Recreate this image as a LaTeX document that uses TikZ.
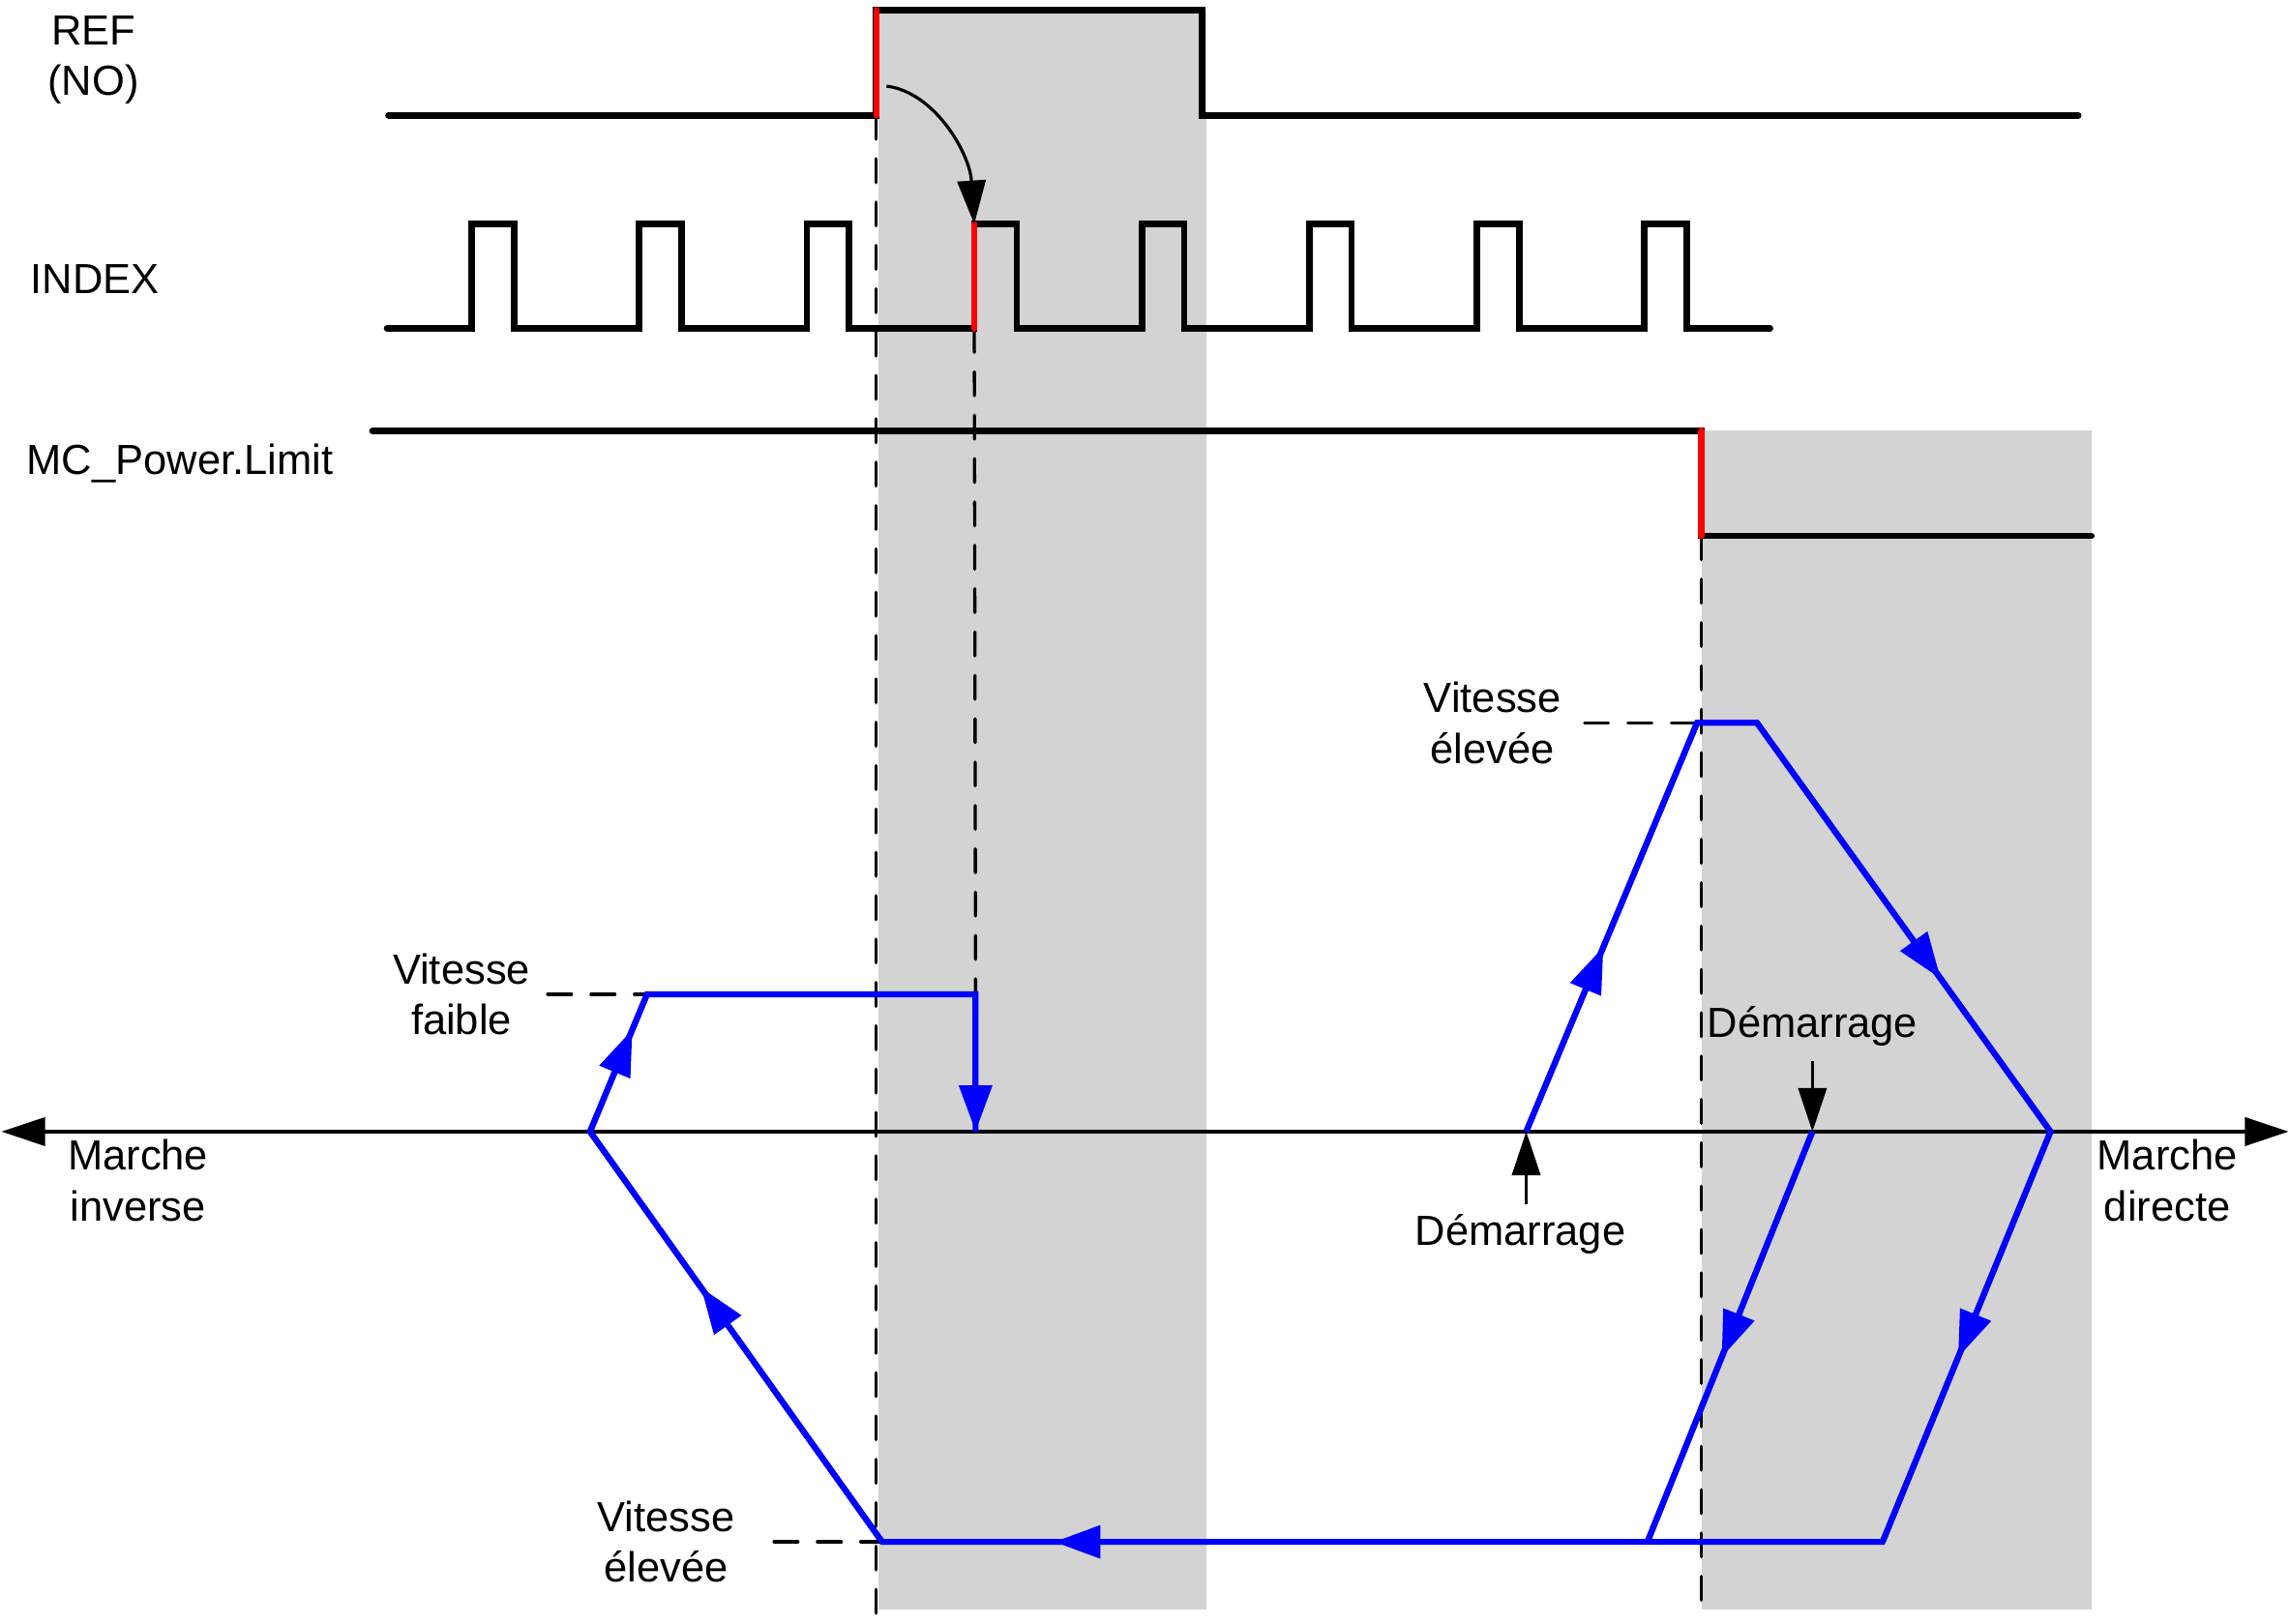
\documentclass[tikz,border=0pt]{standalone}
\usepackage{fontspec}
\setmainfont{Liberation Sans}
\usetikzlibrary{arrows.meta,decorations.markings}
\definecolor{bandgray}{RGB}{211,211,211}
\definecolor{pureblue}{RGB}{0,0,255}
\definecolor{purered}{RGB}{255,0,0}
\tikzset{
  sig/.style={line width=2.5pt, line cap=round, line join=miter},
  redge/.style={line width=2.4pt, draw=purered, line cap=round},
  guide/.style={line width=1.25pt, line cap=round, dash pattern=on 9.3pt off 7.6pt},
  vel/.style={line width=2.3pt, draw=pureblue, line join=miter},
  midarrow/.style={postaction={decorate}, decoration={markings,
      mark=at position #1 with {\arrow{Triangle[length=18pt,width=12.5pt]}}}},
  axisline/.style={line width=1.25pt},
  lbl/.style={font=\fontsize{16.4}{19.8}\selectfont, align=center, inner sep=0pt},
  smallarrow/.style={line width=1.2pt},
  >={Triangle[length=17pt,width=11pt]}
}
\begin{document}
\begin{tikzpicture}[x=0.02cm, y=-0.02cm]
\useasboundingbox (0,0) rectangle (1568,1112);
% grey bands
\fill[bandgray] (601.5,7) rectangle (826,1102.3);
\fill[bandgray] (1165,295) rectangle (1432.4,1102.3);

% key coordinates
\coordinate (refUpLo) at (600,79);
\coordinate (refUpHi) at (600,7);
\coordinate (idxUpLo) at (667.1,225);
\coordinate (idxUpHi) at (667.1,153.5);
\coordinate (pwHi) at (1165,295);
\coordinate (pwLo) at (1165,367);
\coordinate (axL) at (1,775);
\coordinate (axR) at (1567,775);
\coordinate (bottom600) at (600,1112);
\coordinate (bottom1165) at (1165,1103);
% velocity profile points
\coordinate (s1) at (1045,775);
\coordinate (h1) at (1162,495);
\coordinate (h2) at (1203,495);
\coordinate (z1) at (1404,775);
\coordinate (b1) at (1289,1056);
\coordinate (b2) at (604,1056);
\coordinate (z2) at (404,775);
\coordinate (l1) at (443,681);
\coordinate (l2) at (668,681);
\coordinate (stop) at (668,775);
\coordinate (s2) at (1241,775);
\coordinate (b3) at (1128,1056);

% dashed guides
\draw[guide] (refUpLo) -- (bottom600);
\draw[guide] (idxUpLo) -- (l2);
\draw[guide] (pwLo) -- (bottom1165);
\draw[guide] (375,681) -- (l1);
\draw[guide] (1085,495) -- (h1);
\draw[guide] (530,1056) -- (b2);

% REF signal
\draw[sig] (266,79) -- (refUpLo) -- (refUpHi) -- (823,7) -- (823,79) -- (1423,79);
\draw[redge] (refUpLo) -- (refUpHi);

% INDEX signal
\draw[sig] (265,225)
  \foreach \r in {323,437.7,552.4,667.1,781.8,896.5,1011.2,1125.9}{
    -- (\r,225) -- (\r,153.5) -- (\r+29,153.5) -- (\r+29,225)
  } -- (1212,225);
\draw[redge] (idxUpLo) -- (idxUpHi);

% MC_Power.Limit signal
\draw[sig] (255,295) -- (pwHi) -- (pwLo) -- (1432,367);
\draw[redge] (pwHi) -- (pwLo);

% curved causal arrow
\draw[line width=1.2pt, ->] (607,59) .. controls (640,63) and (664,105) .. (idxUpHi);

% axis
\draw[axisline, <->] (axL) -- (axR);

% velocity profile
\draw[vel] (s1) -- (h1) -- (h2) -- (z1) -- (b1) -- (b2) -- (z2) -- (l1) -- (l2) -- (stop);
\draw[vel] (s2) -- (b3);
\draw[vel, midarrow=0.452] (s1) -- (h1);
\draw[vel, midarrow=0.626] (h2) -- (z1);
\draw[vel, midarrow=0.55] (z1) -- (b1);
\draw[vel, midarrow=0.828] (b1) -- (b2);
\draw[vel, midarrow=0.62] (b2) -- (z2);
\draw[vel, midarrow=0.745] (z2) -- (l1);
\draw[vel, midarrow=0.55] (s2) -- (b3);
\draw[vel, -{Triangle[length=18pt,width=12.5pt]}] (l2) -- (stop);

% labels
\node[lbl] (lref) at (64,41) {REF\\(NO)};
\node[lbl] (lidx) at (65,191) {INDEX};
\node[lbl, anchor=base west] (lpw) at (18,325) {MC\_Power.Limit};
\node[lbl] (lvf) at (316,681) {Vitesse\\faible};
\node[lbl] (lve1) at (1022,495) {Vitesse\\élevée};
\node[lbl] (lve2) at (456,1056) {Vitesse\\élevée};
\node[lbl] (lmi) at (94.5,808.6) {Marche\\inverse};
\node[lbl] (lmd) at (1484,808.6) {Marche\\directe};
\node[lbl, anchor=base] (ld1) at (1041,853) {Démarrage};
\node[lbl, anchor=base] (ld2) at (1241,710.5) {Démarrage};

% start markers
\coordinate (d1tail) at (1045,825);
\coordinate (d2tail) at (1241,727);
\draw[smallarrow, ->] (d1tail) -- (s1);
\draw[smallarrow, ->] (d2tail) -- (s2);
\end{tikzpicture}
\end{document}
